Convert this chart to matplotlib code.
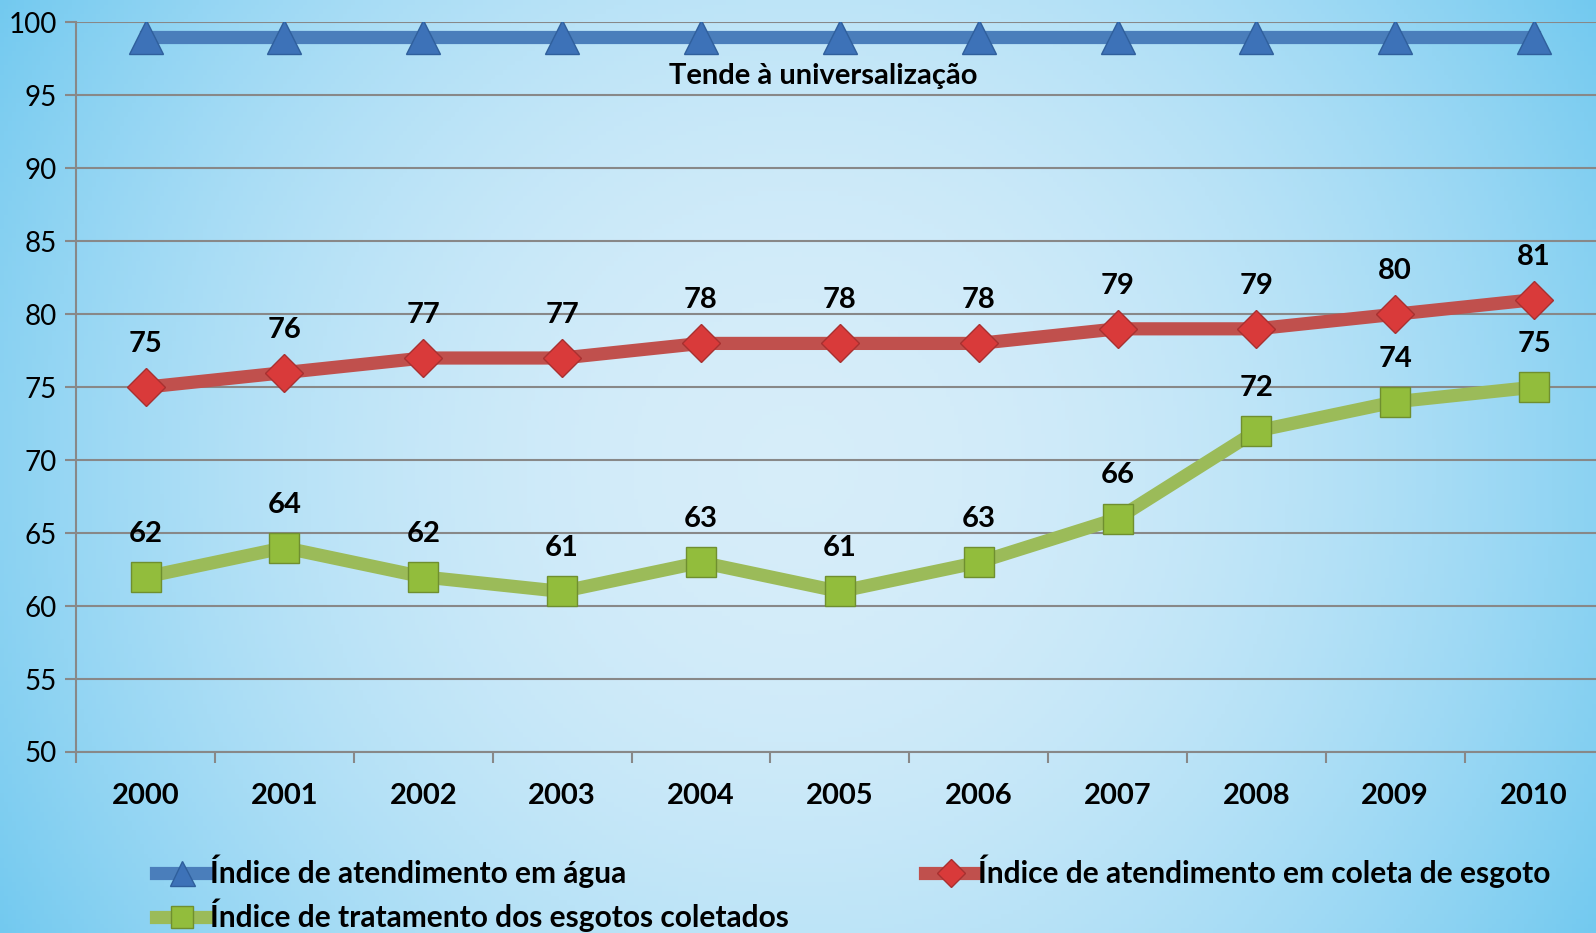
import numpy as np
import matplotlib.pyplot as plt

plt.rcParams['font.family'] = ['Lato', 'DejaVu Sans']

years = ['2000', '2001', '2002', '2003', '2004', '2005', '2006', '2007', '2008', '2009', '2010']
agua = [99, 99, 99, 99, 99, 99, 99, 99, 99, 99, 99]
coleta = [75, 76, 77, 77, 78, 78, 78, 79, 79, 80, 81]
tratamento = [62, 64, 62, 61, 63, 61, 63, 66, 72, 74, 75]

labels = ['Índice de atendimento em água',
          'Índice de atendimento em coleta de esgoto',
          'Índice de tratamento dos esgotos coletados']

fig = plt.figure(figsize=(15.96, 9.33), dpi=100)

# background gradient: darker blue at the sides, lighter in the middle
bg = fig.add_axes([0, 0, 1, 1], zorder=-10)
xs = np.linspace(-1, 1, 400)
ys = np.linspace(-1, 1, 200)
X, Y = np.meshgrid(xs, ys)
v = 0.75 * X**2 + 0.25 * Y**2
light = np.array([0.84, 0.93, 0.98])
dark = np.array([0.45, 0.79, 0.94])
img = light[None, None, :] * (1 - v[..., None]) + dark[None, None, :] * v[..., None]
bg.imshow(np.clip(img, 0, 1), aspect='auto', extent=[0, 1, 0, 1])
bg.axis('off')

ax = fig.add_axes([0.0477, 0.194, 0.957, 0.782])
ax.patch.set_alpha(0)
x = np.arange(len(years))

l1, = ax.plot(x, agua, color='#4a7ebb', lw=9.5, marker='^', ms=24,
              mfc='#3d72b8', mec='#2f5f9c', mew=1, zorder=3)
l2, = ax.plot(x, coleta, color='#c0504d', lw=9.5, marker='D', ms=19,
              mfc='#d93a3a', mec='#a83030', mew=1, zorder=3)
l3, = ax.plot(x, tratamento, color='#9bbb59', lw=9.5, marker='s', ms=22,
              mfc='#92bd3c', mec='#6f8f2f', mew=1, zorder=3)

for xi, v1, v2 in zip(x, coleta, tratamento):
    ax.annotate(str(v1), (xi, v1), xytext=(0, 31), textcoords='offset points',
                ha='center', va='center', fontsize=21, fontweight='bold')
    ax.annotate(str(v2), (xi, v2), xytext=(0, 31), textcoords='offset points',
                ha='center', va='center', fontsize=21, fontweight='bold')

ax.text(4.88, 96.3, 'Tende à universalização', ha='center', va='center',
        fontsize=21, fontweight='bold')

ax.set_xlim(-0.5, 10.5)
ax.set_ylim(50, 100)
ax.set_yticks(range(50, 101, 5))
ax.tick_params(axis='y', labelsize=20, length=8, color='#888888', width=1.5, pad=6)
ax.grid(axis='y', color='#888888', lw=1.5)
ax.set_axisbelow(True)

ax.set_xticks(x)
ax.set_xticklabels(years, fontsize=21, fontweight='bold')
ax.tick_params(axis='x', which='major', length=0, pad=22)
ax.set_xticks(np.arange(-0.5, 10.6, 1), minor=True)
ax.tick_params(axis='x', which='minor', length=8, color='#888888', width=1.5)

for side in ['top', 'right']:
    ax.spines[side].set_visible(False)
for side in ['left', 'bottom']:
    ax.spines[side].set_color('#888888')
    ax.spines[side].set_linewidth(1.5)

fig.legend([l1, l3, l2], [labels[0], labels[2], labels[1]], ncol=2,
           loc='lower left', bbox_to_anchor=(0.081, -0.028), frameon=False,
           prop={'size': 21.5, 'weight': 'bold'}, handlelength=1.75,
           handletextpad=0.05, columnspacing=4.55, labelspacing=0.35,
           markerscale=0.75)

fig.savefig('out.png', dpi=100)
